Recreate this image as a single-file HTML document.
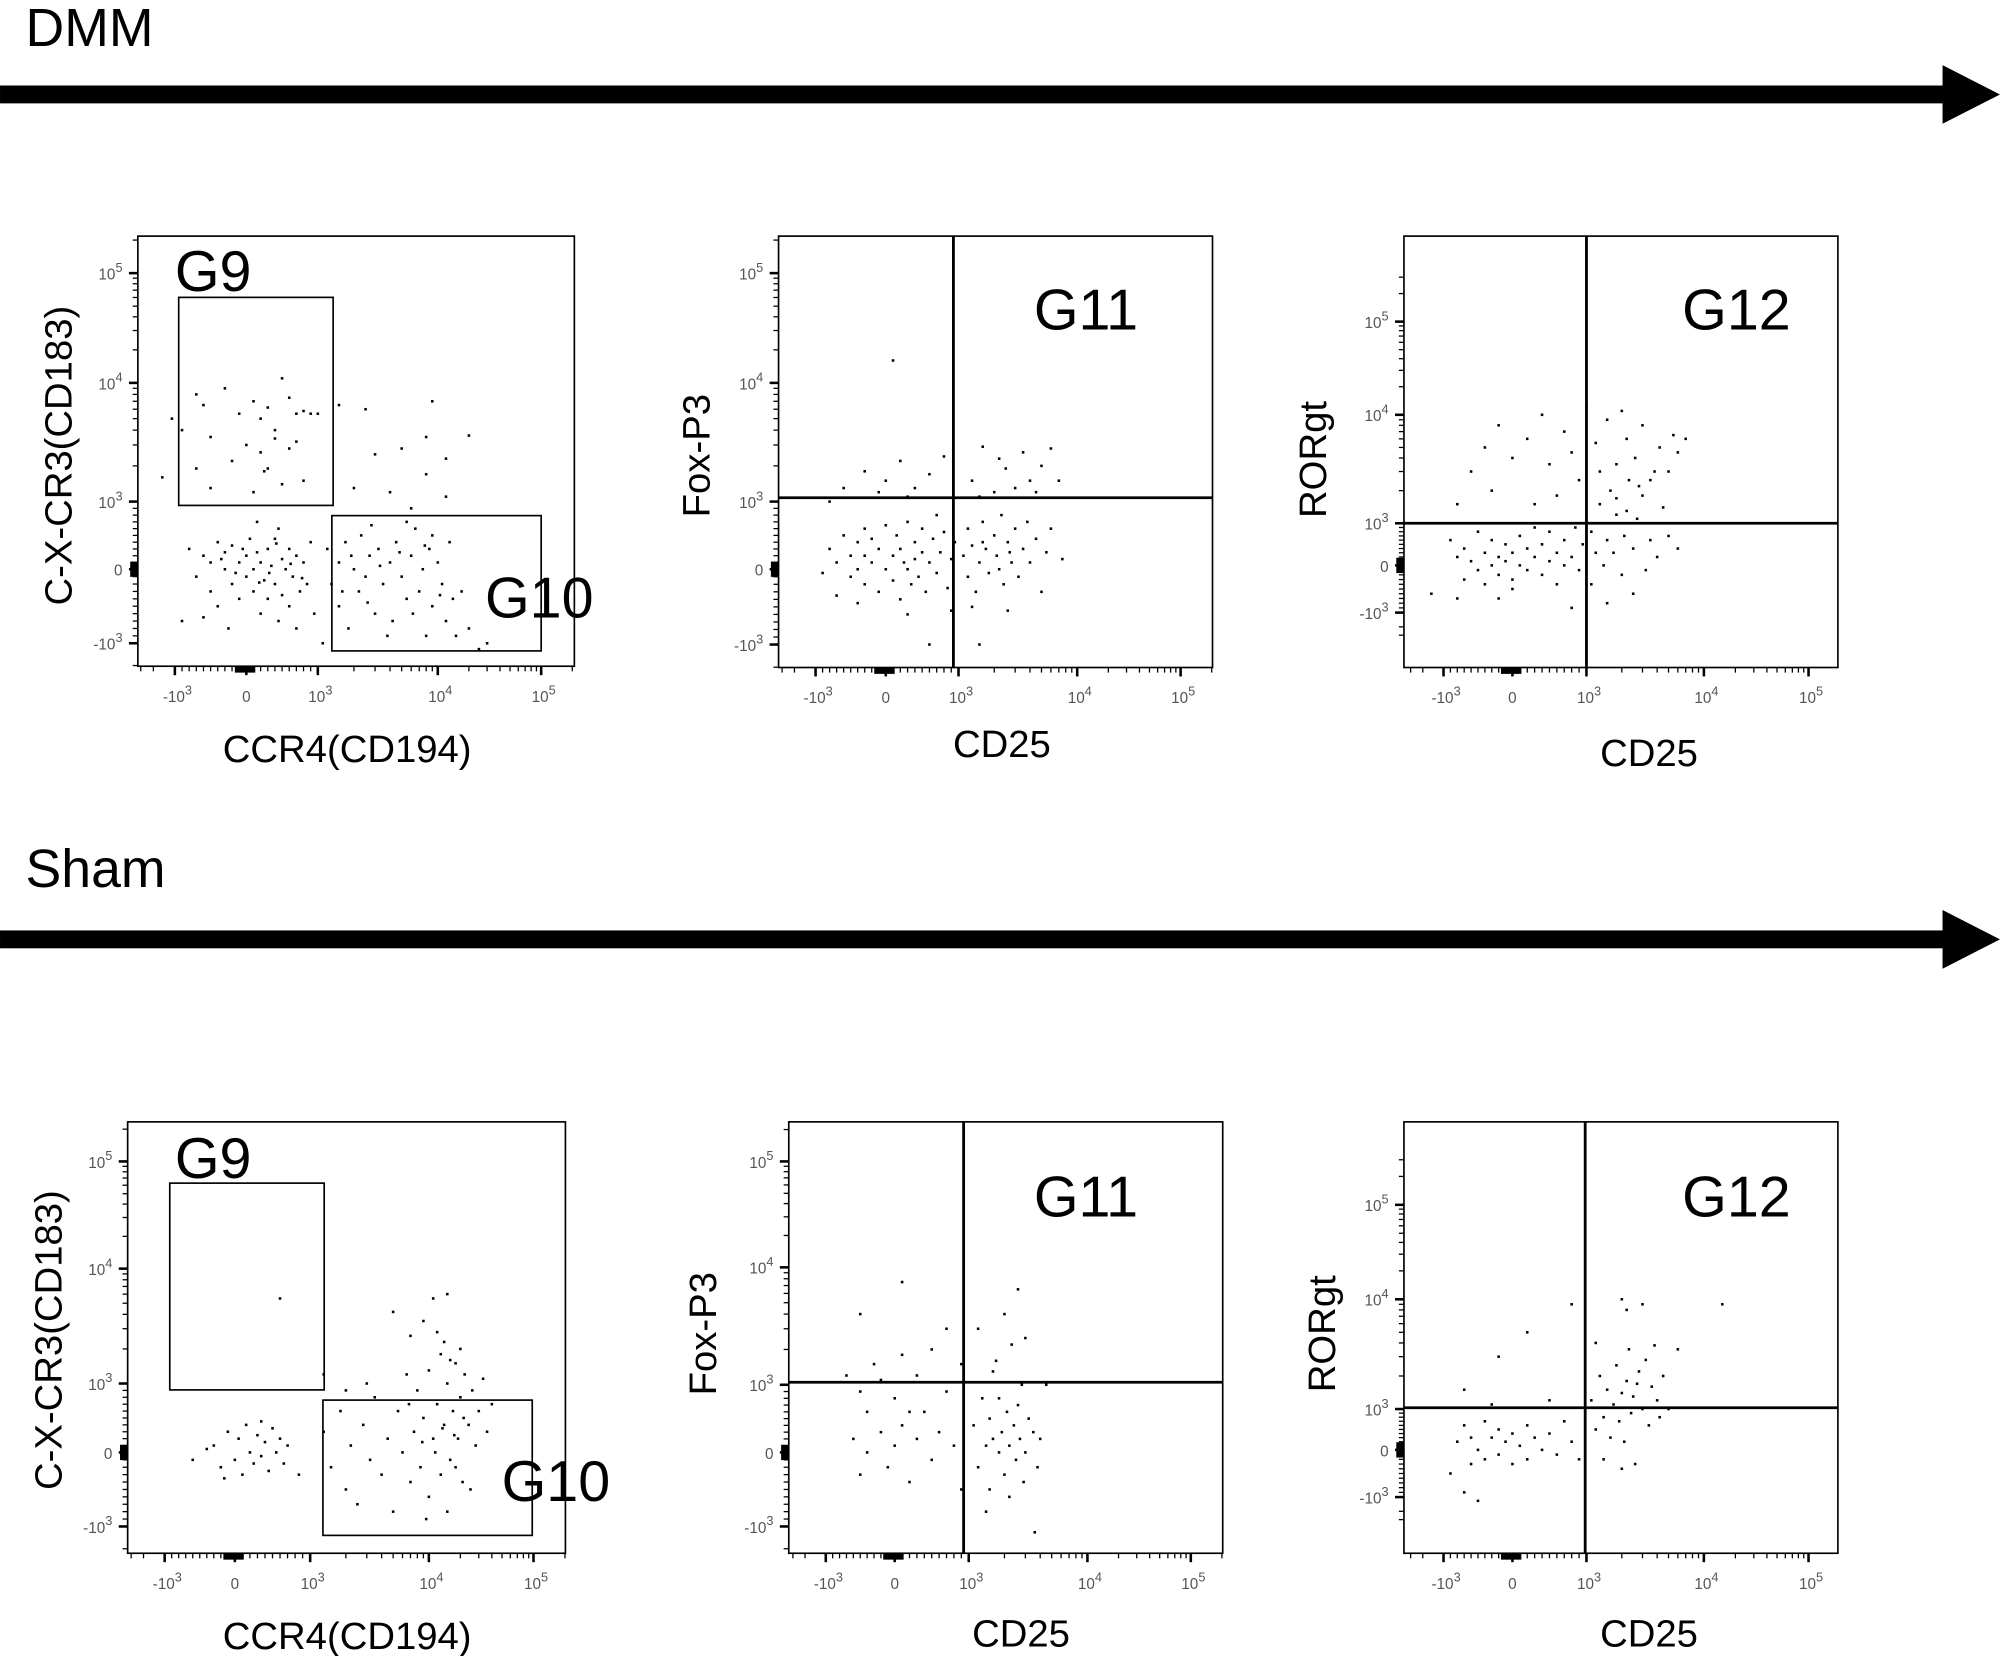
<!DOCTYPE html>
<html><head><meta charset="utf-8"><style>
html,body{margin:0;padding:0;background:#fff}
svg{display:block}
</style></head><body>
<svg id="fig" width="2000" height="1656" viewBox="0 0 1567 1297.5" xmlns="http://www.w3.org/2000/svg" font-family="Liberation Sans, sans-serif">
<rect x="0" y="0" width="1567" height="1297.5" fill="#fff"/>
<text x="20" y="36" font-size="42">DMM</text>
<rect x="0" y="67" width="1525" height="14" fill="#000"/>
<polygon points="1522,51 1567,74 1522,97" fill="#000"/>
<text x="20" y="695" font-size="42">Sham</text>
<rect x="0" y="729" width="1525" height="14" fill="#000"/>
<polygon points="1522,713 1567,736 1522,759" fill="#000"/>
<g id="panels"></g>
</svg>
<script>
// ---- data (real fluorescence units) ----
const p1Points = [[-700,8000],[-600,6500],[-300,9000],[-100,5500],[100,7000],[200,5000],[300,6200],[400,4000],[500,11000],[600,7500],[700,5500],[800,5800],[900,5500],[-500,3500],[0,3000],[200,2600],[400,3400],[600,2800],[700,3200],[-200,2200],[300,1900],[-700,1900],[-500,1300],[100,1200],[500,1400],[800,1500],[1000,5500],[-900,4000],[-1100,5000],[250,1800],
[1500,6500],[2500,6000],[3000,2500],[2000,1300],[5000,2800],[8000,3500],[8000,1700],[12000,2300],[12000,1100],[4000,1200],[6000,900],[20000,3600],[9000,7000],[-1500,1600],
[-800,300],[-700,-100],[-600,200],[-500,-300],[-500,100],[-400,400],[-400,-500],[-300,0],[-300,250],[-200,-200],[-200,350],[-100,100],[-100,-400],[0,200],[0,-100],[50,450],[100,0],[100,-300],[150,250],[200,-600],[200,100],[250,-150],[300,300],[300,-400],[350,50],[400,-200],[400,450],[450,-700],[500,150],[500,-350],[550,0],[600,300],[600,-500],[650,-100],[700,200],[700,-800],[750,-300],[800,100],[850,-200],[900,400],[950,-600],[-900,-700],[-600,-650],[-250,-800],[150,700],[450,600],[-350,150],[-150,-50],[320,-50],[620,80],[780,-120],[180,-180],[-50,300],[420,380],
[1200,300],[1300,-200],[1500,-500],[1500,100],[1700,400],[1800,-800],[2000,0],[2200,-300],[2300,500],[2500,-100],[2700,200],[3000,-600],[3200,300],[3500,-200],[4000,100],[4200,-700],[4500,400],[5000,-100],[5500,-400],[6000,200],[6500,600],[7000,-300],[7500,0],[8000,-900],[8500,300],[9000,-500],[10000,100],[11000,-200],[12000,-700],[13000,400],[14000,-400],[15000,-900],[17000,-300],[20000,-800],[25000,-1200],[30000,-1000],[2800,650],[5500,700],[9000,500],[3800,-900],[1100,-1000],[1600,-300],[2600,-450],[3300,50],[4800,250],[6200,-600],[7800,350],[10500,-350],[1900,200]];
const p2Points = [[-800,300],[-700,100],[-600,500],[-500,200],[-500,-100],[-400,400],[-400,0],[-300,600],[-300,200],[-300,-200],[-200,100],[-200,450],[-100,-300],[-100,300],[0,0],[0,650],[100,200],[100,-150],[150,500],[200,300],[200,-400],[250,100],[300,700],[300,0],[350,-200],[400,400],[400,150],[450,-100],[500,600],[500,250],[550,-300],[600,100],[650,450],[700,800],[700,-50],[750,250],[800,550],[850,-250],[900,150],[950,400],
[1100,200],[1200,600],[1200,-100],[1300,350],[1400,-300],[1500,100],[1600,700],[1700,300],[1800,-50],[2000,500],[2100,200],[2300,800],[2400,-200],[2600,400],[2800,100],[3000,600],[3200,-100],[3500,300],[3800,700],[4000,100],[4500,450],[5000,-300],[5500,250],[6000,600],[7500,150],[2200,0],[1600,400],[2700,250],
[-600,1300],[-300,1800],[0,1500],[200,2200],[400,1300],[600,1700],[800,2400],[300,1100],[-100,1200],[1300,1500],[1600,2900],[2000,1200],[2500,1900],[3000,1300],[3500,2600],[4000,1500],[5000,2000],[6000,2800],[7000,1500],[1500,1100],[2200,2300],[-800,1000],[4500,1200],
[100,16000],[600,-1000],[1500,-1000],[-900,-50],[-700,-350],[1300,-500],[900,-550],[300,-600],[-400,-450],[2600,-550]];
const p3Points = [[-900,600],[-800,200],[-700,-300],[-700,400],[-600,100],[-500,800],[-500,-100],[-400,300],[-400,-400],[-300,600],[-300,0],[-200,200],[-200,-200],[-100,500],[-100,100],[0,300],[0,-300],[100,700],[100,0],[200,400],[200,-100],[300,900],[300,200],[400,-200],[400,500],[500,100],[500,800],[600,300],[600,-400],[700,600],[700,0],[800,200],[850,900],[900,-100],[950,500],
[1100,800],[1200,300],[1300,1500],[1400,0],[1500,600],[1600,2000],[1700,300],[1800,1200],[2000,-200],[2100,700],[2300,2500],[2500,400],[2700,1100],[3000,1800],[3200,-100],[3500,600],[3800,3000],[4000,200],[4500,1400],[5000,700],[6000,400],[2200,1300],[1800,1700],
[-600,3000],[-400,5000],[-200,8000],[0,4000],[200,6000],[400,10000],[500,3500],[700,7000],[900,2500],[-800,1500],[-300,2000],[300,1500],[600,1800],[800,4500],[1200,5500],[1500,9000],[1800,3500],[2200,6000],[2600,4000],[3000,8000],[3500,2500],[4200,5000],[5000,3000],[5500,6500],[6000,4500],[7000,6000],[1000,12000],[2000,11000],[1300,3000],[2800,2200],
[-1500,-600],[-800,-700],[0,-500],[800,-900],[1500,-800],[2500,-600],[-200,-700],[1100,-400]];
const p4Points = [[-300,100],[-200,-200],[-100,300],[0,-100],[50,200],[100,-300],[150,400],[200,0],[250,-150],[300,250],[350,-50],[400,150],[450,-250],[500,350],[550,0],[600,200],[650,-150],[700,100],[-400,50],[-150,-350],[350,450],[-600,-100],[850,-300],
[1300,300],[1500,-200],[1800,600],[2000,-500],[2200,100],[2500,-700],[2800,400],[3200,-100],[3500,800],[4000,-300],[4500,200],[5000,-800],[5500,600],[6000,0],[6500,1200],[7000,-400],[7500,300],[8000,900],[8500,-200],[9000,500],[10000,1300],[10000,-600],[11000,200],[12000,700],[13000,1800],[13000,-300],[14000,400],[15000,1000],[16000,-100],[17000,600],[18000,1500],[19000,200],[20000,800],[21000,-400],[22000,1200],[24000,400],[26000,900],[28000,100],[30000,600],[33000,1100],[36000,300],[40000,700],[14000,2300],[16000,1600],[12000,2800],[9000,3500],[11000,5500],[15000,6000],[20000,2000],[7000,2600],[5000,4200],[3000,1000],[2000,900],[15000,-800],[9500,-900],[25000,-500],[18000,-200],[11500,0],[13500,350],[17500,250],[21500,500],[8800,150],[6800,700],[600,5500],[1300,1200]];
const p5Points = [[-600,200],[-500,900],[-400,0],[-400,600],[-300,1500],[-200,300],[-100,-200],[0,800],[0,100],[100,1800],[100,400],[200,-400],[300,1200],[300,200],[400,600],[500,-100],[500,2000],[600,300],[700,900],[800,100],[900,-500],[-700,1200],[-500,-300],[200,600],[-200,1100],[100,7500],[-500,4000],[700,3000],[900,1500],
[1100,400],[1200,-200],[1300,800],[1400,100],[1500,500],[1500,-500],[1600,200],[1700,1600],[1800,0],[1900,300],[2000,-300],[2100,600],[2200,100],[2300,2200],[2400,400],[2500,-100],[2600,700],[2700,200],[2800,1000],[3000,0],[3200,500],[3500,300],[3800,-200],[4000,200],[1200,3000],[1600,1300],[2000,4000],[2600,6500],[3000,2500],[4500,1000],[1400,-800],[3600,-1200],[2200,-600],[1800,800],[2900,-400]];
const p6Points = [[-900,-500],[-800,200],[-700,600],[-600,-300],[-600,300],[-500,0],[-400,700],[-400,-200],[-300,300],[-200,500],[-200,-100],[-100,200],[0,400],[0,-300],[100,100],[200,600],[200,-200],[300,300],[400,0],[500,400],[600,-100],[700,700],[800,200],[900,-200],[-700,1500],[-200,3000],[200,5000],[500,1200],[800,9000],[-300,1100],[-700,-900],[-500,-1200],
[1100,1200],[1200,500],[1300,2000],[1400,800],[1500,1500],[1600,300],[1700,1100],[1800,2500],[1900,700],[2000,1400],[2100,200],[2200,1800],[2300,3500],[2400,900],[2500,1300],[2600,-300],[2800,2200],[3000,1000],[3200,2800],[3400,600],[3600,1600],[3800,3800],[4000,1200],[4500,2000],[5000,1000],[6000,3500],[2000,10000],[2200,8000],[3000,9000],[1200,4000],[2000,-400],[1400,-200],[15000,9000],[4200,800],[2700,1700]];

const tickValues = [-1000, 0, 1000, 10000, 100000];
const tickLabels = [["-10","3"],["0",""],["10","3"],["10","4"],["10","5"]];

function tv(v){
  if (v >= 1000) return 1 + Math.log10(v/1000);
  if (v <= -1000) return -1 - Math.log10(-v/1000);
  return v/1000;
}
function makeScale(px){ // px: pixel positions for t=-1,0,1,2,3
  const ts=[-1,0,1,2,3];
  return function(v){
    const t=tv(v);
    let i;
    if (t<0) i=0; else if (t<1) i=1; else if (t<2) i=2; else i=3;
    const t0=ts[i], t1=ts[i+1];
    return px[i] + (t-t0)*(px[i+1]-px[i])/(t1-t0);
  };
}

const panels = [
 {name:'dmm-cxcr3-ccr4', pts:p1Points, fx:108, fy:185, fw:342, fh:337, xpx:[137,193,249,343,424], ypx:[504,446,393,300,214],
  xl:'CCR4(CD194)', xlx:272, xly:597, yl:'C-X-CR3(CD183)', ylx:56, yly:357,
  gates:[{n:'G9',x:140,y:233,w:121,h:163,tx:137,ty:228},{n:'G10',x:260,y:404,w:164,h:106,tx:380,ty:484}]},
 {name:'dmm-foxp3-cd25', pts:p2Points, fx:610, fy:185, fw:340, fh:338, xpx:[639,694,751,844,925], ypx:[505,446,393,300,214],
  xl:'CD25', xlx:785, xly:593, yl:'Fox-P3', ylx:556, yly:357, qx:747, qy:390, gl:'G11', gx:810, gy:258},
 {name:'dmm-rorgt-cd25', pts:p3Points, fx:1100, fy:185, fw:340, fh:338, xpx:[1131,1185,1243,1335,1417], ypx:[480,443,410,325,252],
  xl:'CD25', xlx:1292, xly:600, yl:'RORgt', ylx:1039, yly:360, qx:1243, qy:410, gl:'G12', gx:1318, gy:258},
 {name:'sham-cxcr3-ccr4', pts:p4Points, fx:100, fy:879, fw:343, fh:338, xpx:[129,184,243,336,418], ypx:[1196,1138,1084,994,910],
  xl:'CCR4(CD194)', xlx:272, xly:1292, yl:'C-X-CR3(CD183)', ylx:48, yly:1050,
  gates:[{n:'G9',x:133,y:927,w:121,h:162,tx:137,ty:923},{n:'G10',x:253,y:1097,w:164,h:106,tx:393,ty:1176}]},
 {name:'sham-foxp3-cd25', pts:p5Points, fx:618, fy:879, fw:340, fh:338, xpx:[647,701,759,852,933], ypx:[1196,1138,1085,993,910],
  xl:'CD25', xlx:800, xly:1290, yl:'Fox-P3', ylx:561, yly:1045, qx:755, qy:1083, gl:'G11', gx:810, gy:953},
 {name:'sham-rorgt-cd25', pts:p6Points, fx:1100, fy:879, fw:340, fh:338, xpx:[1131,1185,1243,1335,1417], ypx:[1173,1136,1104,1018,944],
  xl:'CD25', xlx:1292, xly:1290, yl:'RORgt', ylx:1046, yly:1045, qx:1242, qy:1103, gl:'G12', gx:1318, gy:953}
];

const NS='http://www.w3.org/2000/svg';
const root=document.getElementById('panels');
function el(tag, attrs, parent){
  const e=document.createElementNS(NS,tag);
  for(const k in attrs) e.setAttribute(k, attrs[k]);
  (parent||root).appendChild(e); return e;
}
function minorVals(){
  const out=[];
  for(let v=-900; v<1000; v+=100) if(v!==0) out.push(v);
  for(let d=1000; d<100000; d*=10) for(let m=2;m<10;m++) out.push(m*d);
  for(let m=2;m<4;m++) out.push(-m*1000);
  out.push(200000); out.push(300000);
  return out;
}
const minors=minorVals();

panels.forEach(function(p){
  const g=el('g',{});
  
  
  const sx=makeScale(p.xpx), sy=makeScale(p.ypx);
  const frame=el('rect',{x:p.fx,y:p.fy,width:p.fw,height:p.fh,fill:'none',stroke:'#000','stroke-width':1.3},g);
  
  
  const bottom=p.fy+p.fh, left=p.fx;
  minors.forEach(function(v){
    const x=sx(v); if(x>left && x<p.fx+p.fw)
      el('line',{x1:x,y1:bottom,x2:x,y2:bottom+4,stroke:'#000','stroke-width':1},g);
    const y=sy(v); if(y>p.fy && y<bottom)
      el('line',{x1:left,y1:y,x2:left-4,y2:y,stroke:'#000','stroke-width':1},g);
  });
  el('rect',{x:sx(0)-9,y:bottom,width:16,height:5,fill:'#000'},g);
  el('rect',{x:left-6,y:sy(0)-6,width:6,height:12,fill:'#000'},g);
  tickValues.forEach(function(v,i){
    const x=sx(v), y=sy(v);
    el('line',{x1:x,y1:bottom,x2:x,y2:bottom+7,stroke:'#000','stroke-width':2},g);
    if(y>p.fy-2 && y<bottom+2) el('line',{x1:left,y1:y,x2:left-7,y2:y,stroke:'#000','stroke-width':2},g);
    const xt=el('text',{x:x+(tickLabels[i][1]?2:0),y:bottom+28,'font-size':12,fill:'#555','text-anchor':'middle'},g);
    
    
    xt.appendChild(document.createTextNode(tickLabels[i][0]));
    if(tickLabels[i][1]){const s=el('tspan',{dy:-6,'font-size':10},xt); s.textContent=tickLabels[i][1];}
    if(y>p.fy-2 && y<bottom+2){
      const yt=el('text',{x:left-12,y:y+5,'font-size':12,fill:'#555','text-anchor':'end'},g);
      
      
      yt.appendChild(document.createTextNode(tickLabels[i][0]));
      if(tickLabels[i][1]){const s=el('tspan',{dy:-6,'font-size':10},yt); s.textContent=tickLabels[i][1];}
    }
  });
  p.pts.forEach(function(pt){
    const x=sx(pt[0]), y=sy(pt[1]);
    if(x<p.fx||x>p.fx+p.fw||y<p.fy||y>bottom) return;
    const d=el('rect',{x:x-1,y:y-1,width:2,height:2,fill:'#000'},g);
    
    
  });
  if(p.gates) p.gates.forEach(function(gt){
    const r=el('rect',{x:gt.x,y:gt.y,width:gt.w,height:gt.h,fill:'none',stroke:'#000','stroke-width':1.3},g);
    
    
    const t=el('text',{x:gt.tx,y:gt.ty,'font-size':45},g);
    
    
    t.textContent=gt.n;
  });
  if(p.qx){
    const v=el('line',{x1:p.qx,y1:p.fy,x2:p.qx,y2:bottom,stroke:'#000','stroke-width':2.2},g);
    
    
    const h=el('line',{x1:p.fx,y1:p.qy,x2:p.fx+p.fw,y2:p.qy,stroke:'#000','stroke-width':2.2},g);
    
    
    const t=el('text',{x:p.gx,y:p.gy,'font-size':45},g);
    
    
    t.textContent=p.gl;
  }
  const xl=el('text',{x:p.xlx,y:p.xly,'font-size':30,'text-anchor':'middle'},g);
  
  
  xl.textContent=p.xl;
  const yl=el('text',{x:p.ylx,y:p.yly,'font-size':30,'text-anchor':'middle',transform:'rotate(-90 '+p.ylx+' '+p.yly+')'},g);
  
  
  yl.textContent=p.yl;
});
</script>
</body></html>
